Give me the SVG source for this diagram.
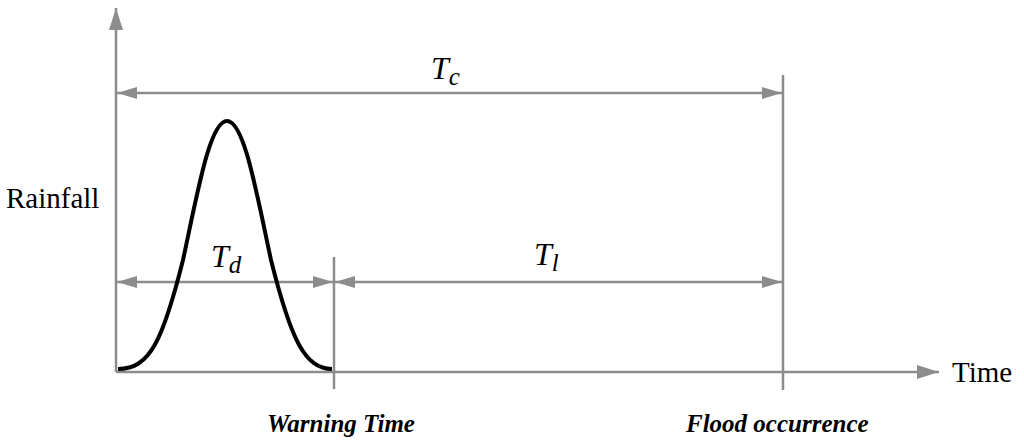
<svg xmlns="http://www.w3.org/2000/svg" width="1024" height="442" viewBox="0 0 1024 442">
<style>
.ax{stroke:#8c8c8c;stroke-width:2.5;fill:none}
.math{font-family:"Liberation Serif","DejaVu Serif",serif;font-style:italic;font-size:32px;fill:#000}
.sub{font-size:25px}
.lab{font-family:"Liberation Serif",serif;font-size:29px;fill:#000}
.bi{font-family:"Liberation Serif",serif;font-size:25px;font-weight:bold;font-style:italic;fill:#000}
</style>
<defs>
<marker id="ah" viewBox="0 0 20 12" refX="20" refY="6" markerWidth="20" markerHeight="12" markerUnits="userSpaceOnUse" orient="auto-start-reverse">
<path d="M0,0 L20,6 L0,12 z" fill="#8c8c8c"/>
</marker>
<marker id="axh" viewBox="0 0 22 14" refX="22" refY="7" markerWidth="22" markerHeight="14" markerUnits="userSpaceOnUse" orient="auto">
<path d="M0,0 L22,7 L0,14 z" fill="#8c8c8c"/>
</marker>
</defs>
<g id="connectors">
<line class="ax" x1="116" y1="372" x2="116" y2="8" marker-end="url(#axh)"/>
<line class="ax" x1="116" y1="372" x2="939" y2="372" marker-end="url(#axh)"/>
<line class="ax" x1="783" y1="75" x2="783" y2="390"/>
<line class="ax" x1="334" y1="257" x2="334" y2="389"/>
<line class="ax" x1="117" y1="93" x2="782" y2="93" marker-start="url(#ah)" marker-end="url(#ah)"/>
<line class="ax" x1="117" y1="282" x2="333" y2="282" marker-start="url(#ah)" marker-end="url(#ah)"/>
<line class="ax" x1="335" y1="282" x2="782" y2="282" marker-start="url(#ah)" marker-end="url(#ah)"/>
</g>
<g id="curve">
<path d="M118,369 C150,369 163,340 183,260 C198,190 210,121 227,121 C244,121 256,190 271,260 C291,340 305,369 332,369" fill="none" stroke="#000" stroke-width="4"/>
</g>
<g id="labels">
<text class="math" x="431" y="79">T<tspan class="sub" dy="6">c</tspan></text>
<text class="math" x="211" y="267">T<tspan class="sub" dy="6">d</tspan></text>
<text class="math" x="534" y="265">T<tspan class="sub" dy="6">l</tspan></text>
<text class="lab" x="6" y="208">Rainfall</text>
<text class="lab" x="952" y="382">Time</text>
<text class="bi" x="267" y="432">Warning Time</text>
<text class="bi" x="686" y="432">Flood occurrence</text>
</g>
</svg>
